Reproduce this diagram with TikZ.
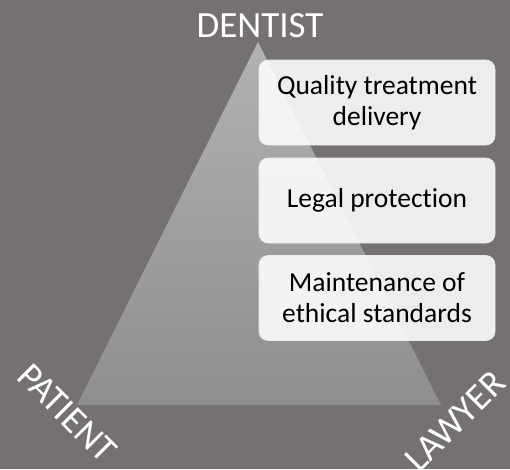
\documentclass[tikz,border=0pt]{standalone}
\usepackage{fontspec}
\setmainfont{Carlito}[Ligatures=NoCommon]
\definecolor{bgc}{RGB}{117,113,113}
\definecolor{tritop}{RGB}{178,178,178}
\definecolor{tribot}{RGB}{142,142,142}
\tikzset{
  lbl/.style={text=white, font=\fontsize{37}{40}\selectfont, inner sep=0pt},
  infobox/.style={draw=white!85!gray, line width=0.6pt, rounded corners=9pt, fill=white, fill opacity=0.88, text opacity=1, text=black,
    minimum width=236pt, minimum height=85pt, inner sep=0pt, align=center, font=\fontsize{27.5}{31}\selectfont}
}
\begin{document}
\begin{tikzpicture}[x=1pt,y=-1pt]
\fill[bgc] (0,0) rectangle (510,469);
\useasboundingbox (0,0) rectangle (510,469);
\coordinate (apex) at (258,42);
\coordinate (bl) at (77,405);
\coordinate (br) at (441,405);
\shade[top color=tritop, bottom color=tribot] (apex) -- (br) -- (bl) -- cycle;
\node[lbl, anchor=base] (dentist) at (260,37) {DENTIST};
\node[lbl, rotate=-45] (patient) at (67,413) {PATIENT};
\node[lbl, rotate=45] (lawyer) at (455,421) {LAWYER};
\node[infobox] (b1) at (377,102.5) {Quality treatment\\delivery};
\node[infobox] (b2) at (377,200.5) {Legal protection};
\node[infobox] (b3) at (377,298) {Maintenance of\\ethical standards};
\end{tikzpicture}
\end{document}
